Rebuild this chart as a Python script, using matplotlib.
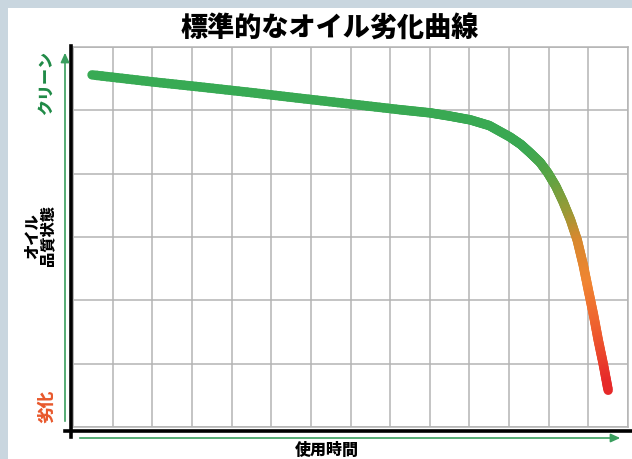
import numpy as np
import matplotlib
matplotlib.use("Agg")
import matplotlib.pyplot as plt
from matplotlib.collections import LineCollection
from matplotlib.colors import LinearSegmentedColormap
from matplotlib.patches import Rectangle, FancyArrowPatch

plt.rcParams['font.family'] = ['Noto Sans CJK JP', 'DejaVu Sans']

# ---- data ----
title = "標準的なオイル劣化曲線"
x_label = "使用時間"
y_label = "オイル\n品質状態"
y_top_label = "クリーン"
y_bottom_label = "劣化"

usage_time = [0.48, 2.0, 3.2, 4.5, 5.73, 7.0, 8.25, 9.01, 9.5, 10.02, 10.5,
              11.02, 11.3, 11.53, 11.78, 11.98, 12.18, 12.36, 12.55, 12.72,
              12.87, 13.00, 13.13, 13.25, 13.38, 13.50]
oil_quality = [5.56, 5.45, 5.37, 5.28, 5.19, 5.10, 5.01, 4.96, 4.91, 4.85, 4.76,
               4.58, 4.46, 4.33, 4.18, 4.01, 3.80, 3.56, 3.27, 2.95,
               2.56, 2.16, 1.77, 1.37, 0.98, 0.58]

x_ticks = list(range(0, 15))
y_ticks = list(range(0, 7))

W, H = 632, 459
fig = plt.figure(figsize=(W / 100, H / 100), dpi=100)
fig.patch.set_facecolor('#c9d6df')
fig.patches.append(Rectangle((8 / W, 0), 1 - 8 / W, (H - 8) / H,
                             transform=fig.transFigure, facecolor='white',
                             edgecolor='none', zorder=-10))

ax = fig.add_axes([73 / W, (H - 427) / H, (628 - 73) / W, (427 - 47) / H])
ax.set_zorder(1)
ax.set_facecolor('white')
ax.set_xlim(x_ticks[0], x_ticks[-1])
ax.set_ylim(y_ticks[0], y_ticks[-1])
ax.set_xticks(x_ticks)
ax.set_yticks(y_ticks)
ax.tick_params(length=0, labelbottom=False, labelleft=False)
ax.grid(True, color='#b4b4b4', linewidth=1.1)
for s in ax.spines.values():
    s.set_color('#b4b4b4')
    s.set_linewidth(1.1)

# gradient line
x = np.asarray(usage_time)
y = np.asarray(oil_quality)
xs, ys = [], []
for i in range(len(x) - 1):
    t = np.linspace(0, 1, 12, endpoint=False)
    xs.append(x[i] + (x[i + 1] - x[i]) * t)
    ys.append(y[i] + (y[i + 1] - y[i]) * t)
xs.append([x[-1]]); ys.append([y[-1]])
xs = np.concatenate(xs); ys = np.concatenate(ys)
pts = np.column_stack([xs, ys]).reshape(-1, 1, 2)
segs = np.concatenate([pts[:-1], pts[1:]], axis=1)
cmap = LinearSegmentedColormap.from_list('oil', [
    (0.0, '#e41f24'),
    (0.12, '#e62a2a'),
    (0.25, '#ee5a2e'),
    (0.40, '#f08532'),
    (0.52, '#d8882e'),
    (0.60, '#9a9a36'),
    (0.70, '#5aa444'),
    (0.78, '#3aa852'),
    (1.0, '#38aa54'),
])
vals = (ys[:-1] + ys[1:]) / 2 / 5.6
lc = LineCollection(segs, cmap=cmap, norm=plt.Normalize(0, 1),
                    linewidths=6.8, capstyle='round', joinstyle='round', zorder=3)
lc.set_array(vals)
ax.add_collection(lc)

# black axis lines
fx = lambda px: px / W
fy = lambda py: (H - py) / H
fig.add_artist(plt.Line2D([fx(71), fx(71)], [fy(46), fy(437)], color='black',
                          linewidth=2.6, transform=fig.transFigure, zorder=5))
fig.add_artist(plt.Line2D([fx(65), fx(632)], [fy(431), fy(431)], color='black',
                          linewidth=2.6, transform=fig.transFigure, zorder=5))

# green arrows
green = '#3a9e5e'
fig.add_artist(FancyArrowPatch((fx(65), fy(424)), (fx(65), fy(50)),
                               transform=fig.transFigure, arrowstyle='-|>,head_length=3.5,head_width=1.6',
                               color=green, linewidth=1.2, mutation_scale=1.6, zorder=5))
fig.add_artist(FancyArrowPatch((fx(77), fy(438)), (fx(623), fy(438)),
                               transform=fig.transFigure, arrowstyle='-|>,head_length=3.5,head_width=1.6',
                               color=green, linewidth=1.2, mutation_scale=1.6, zorder=5))

# texts
fig.text(fx(330), fy(28), title, ha='center', va='center', fontsize=19.5,
         fontweight='heavy', color='black')
fig.text(fx(327), fy(450), x_label, ha='center', va='center', fontsize=11.5,
         fontweight='heavy', color='black')
fig.text(fx(40), fy(236), y_label, ha='center', va='center', fontsize=11,
         fontweight='heavy', color='black', rotation=90, linespacing=1.0,
         multialignment='center')
fig.text(fx(46), fy(83), y_top_label, ha='center', va='center', fontsize=11.5,
         fontweight='heavy', color='#1f8a46', rotation=90)
fig.text(fx(46), fy(406), y_bottom_label, ha='center', va='center', fontsize=12,
         fontweight='heavy', color='#e8582c', rotation=90)

fig.savefig('out.png', dpi=100, facecolor=fig.get_facecolor())
